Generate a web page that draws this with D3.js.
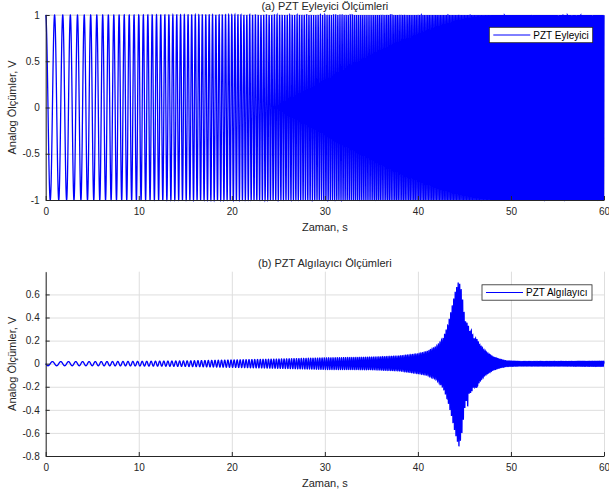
<!DOCTYPE html>
<html>
<head>
<meta charset="utf-8">
<script src="https://cdn.jsdelivr.net/npm/d3@7"></script>
<style>
  body { margin: 0; background: #fff; }
  svg { display: block; font-family: "Liberation Sans", Arial, sans-serif; }
  .axis path, .axis line { stroke: #262626; }
  .axis text { fill: #262626; font-size: 10px; }
  .grid line { stroke: #dedede; }
  .grid path { display: none; }
  .title, .axis-label { fill: #262626; font-size: 11px; }
  .legend text { fill: #000; font-size: 10px; }
</style>
</head>
<body>
<div id="chart"></div>
<script>
// tick values
const xTicks = [0, 10, 20, 30, 40, 50, 60];
const actuatorYTicks = [-1, -0.5, 0, 0.5, 1];
const sensorYTicks = [-0.8, -0.6, -0.4, -0.2, 0, 0.2, 0.4, 0.6];

// sweep frequency of the excitation (Hz), read from cycle spacing
const sweepTimes = [0, 10, 20, 30, 40, 50, 60];
const sweepFreqs = [1.0, 2.0, 3.0, 4.2, 5.6, 7.2, 9.0];

// sensor response envelope (V)
const envTimes = [0, 5, 10, 15, 20, 25, 30, 35, 38, 40, 41, 42, 42.7, 43.2, 43.6, 44.0, 44.4,
  44.7, 45.0, 45.2, 45.35, 45.5, 45.75, 46.0, 46.3, 46.6, 47.1, 47.5, 48.1, 48.8, 49.5, 51, 55, 60];
const envUpper = [0.018, 0.018, 0.02, 0.024, 0.032, 0.04, 0.05, 0.056, 0.066, 0.085, 0.105, 0.15, 0.22,
  0.33, 0.47, 0.62, 0.72, 0.63, 0.42, 0.33, 0.38, 0.28, 0.29, 0.22, 0.22, 0.17, 0.12, 0.09, 0.058,
  0.038, 0.024, 0.019, 0.019, 0.02];
const envLower = [0.018, 0.018, 0.02, 0.024, 0.032, 0.04, 0.05, 0.052, 0.062, 0.085, 0.1, 0.14, 0.21,
  0.32, 0.45, 0.6, 0.72, 0.62, 0.4, 0.32, 0.37, 0.26, 0.25, 0.2, 0.21, 0.16, 0.11, 0.085, 0.055,
  0.036, 0.024, 0.02, 0.02, 0.022];

const width = 609;
const height = 497;
const margin = { left: 45.7, right: 5 };

// Build sampled signals from the read-off sweep and envelope
const dt = 0.0025;
const freqAt = d3.scaleLinear().domain(sweepTimes).range(sweepFreqs);
const upAt = d3.scaleLinear().domain(envTimes).range(envUpper);
const lowAt = d3.scaleLinear().domain(envTimes).range(envLower);

const actuator = [];
const sensor = [];
let phase = 0;
const n = Math.round(60 / dt);
for (let i = 0; i <= n; i++) {
  const t = i * dt;
  actuator.push({ t, v: Math.cos(phase) });
  const s = -Math.sin(phase);
  sensor.push({ t, v: s >= 0 ? upAt(t) * s : lowAt(t) * s });
  phase += 2 * Math.PI * freqAt(t) * dt;
}

const panels = [
  {
    title: "(a) PZT Eyleyici Ölçümleri",
    top: 15, bottom: 200,
    yDomain: [-1, 1], yTicks: actuatorYTicks,
    data: actuator, topLine: true,
    legend: "PZT Eyleyici", legendBox: { x: 489.3, y: 27.3, w: 103.4, h: 15.4 },
  },
  {
    title: "(b) PZT Algılayıcı Ölçümleri",
    top: 271.7, bottom: 456,
    yDomain: [-0.8, 0.797], yTicks: sensorYTicks,
    data: sensor, topLine: false,
    legend: "PZT Algılayıcı", legendBox: { x: 482, y: 284.8, w: 110, h: 15.4 },
  },
];

const svg = d3.select("#chart").append("svg").attr("width", width).attr("height", height);

const x = d3.scaleLinear().domain([0, 60]).range([margin.left, width - margin.right]);
const fmt = (d) => String(d);

panels.forEach((p) => {
  const y = d3.scaleLinear().domain(p.yDomain).range([p.bottom, p.top]);
  const g = svg.append("g");

  // grid
  g.append("g")
    .attr("class", "grid")
    .attr("transform", `translate(0,${p.bottom})`)
    .call(d3.axisBottom(x).tickValues(xTicks).tickSize(-(p.bottom - p.top)).tickFormat(""));
  g.append("g")
    .attr("class", "grid")
    .attr("transform", `translate(${margin.left},0)`)
    .call(d3.axisLeft(y).tickValues(p.yTicks).tickSize(-(x.range()[1] - margin.left)).tickFormat(""));
  if (p.topLine) {
    g.append("line")
      .attr("x1", margin.left).attr("x2", x.range()[1])
      .attr("y1", p.top).attr("y2", p.top)
      .attr("stroke", "#dedede");
  }

  // signal
  const line = d3.line().x((d) => x(d.t)).y((d) => y(d.v));
  g.append("path")
    .datum(p.data)
    .attr("d", line)
    .attr("fill", "none")
    .attr("stroke", "#0000ff")
    .attr("stroke-width", 1.3);

  // axes
  g.append("g")
    .attr("class", "axis")
    .attr("transform", `translate(0,${p.bottom})`)
    .call(d3.axisBottom(x).tickValues(xTicks).tickSizeInner(-4).tickSizeOuter(0).tickPadding(8).tickFormat(fmt));
  g.append("g")
    .attr("class", "axis")
    .attr("transform", `translate(${margin.left},0)`)
    .call(d3.axisLeft(y).tickValues(p.yTicks).tickSizeInner(-4).tickSizeOuter(0).tickPadding(6).tickFormat(fmt));

  // labels
  const cx = (margin.left + x.range()[1]) / 2;
  g.append("text")
    .attr("class", "title")
    .attr("x", cx).attr("y", p.top - 9)
    .attr("dy", "0.35em")
    .attr("text-anchor", "middle")
    .text(p.title);
  g.append("text")
    .attr("class", "axis-label")
    .attr("x", cx).attr("y", p.bottom + 27)
    .attr("dy", "0.35em")
    .attr("text-anchor", "middle")
    .text("Zaman, s");
  g.append("text")
    .attr("class", "axis-label")
    .attr("transform", `translate(12,${(p.top + p.bottom) / 2}) rotate(-90)`)
    .attr("dy", "0.35em")
    .attr("text-anchor", "middle")
    .text("Analog Ölçümler, V");

  // legend
  const b = p.legendBox;
  const lg = g.append("g").attr("class", "legend");
  lg.append("rect")
    .attr("x", b.x).attr("y", b.y).attr("width", b.w).attr("height", b.h)
    .attr("fill", "#fff").attr("stroke", "#262626").attr("stroke-width", 0.8);
  lg.append("line")
    .attr("x1", b.x + 4).attr("x2", b.x + 41)
    .attr("y1", b.y + b.h / 2).attr("y2", b.y + b.h / 2)
    .attr("stroke", "#0000ff").attr("stroke-width", 1);
  lg.append("text")
    .attr("x", b.x + 44).attr("y", b.y + b.h / 2)
    .attr("dy", "0.35em")
    .text(p.legend);
});
</script>
</body>
</html>
